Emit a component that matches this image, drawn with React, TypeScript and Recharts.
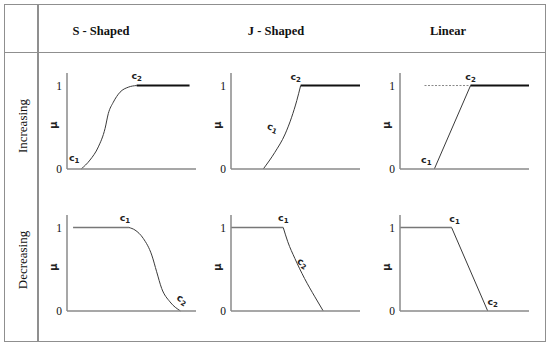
import React from "react";
import { LineChart, Line, XAxis, YAxis, ReferenceDot } from "recharts";

type Pt = { x: number; mu: number };

const COLUMNS = ["S - Shaped", "J - Shaped", "Linear"];
const ROWS = ["Increasing", "Decreasing"];
const MU_TICKS = [0, 1];

// S - shaped
const sIncCurve: Pt[] = [
  { x: 11, mu: 0 }, { x: 17.8, mu: 0.107 }, { x: 24.3, mu: 0.265 }, { x: 29.5, mu: 0.485 },
  { x: 32, mu: 0.663 }, { x: 35.9, mu: 0.8 }, { x: 41.1, mu: 0.92 }, { x: 47.5, mu: 0.98 }, { x: 54, mu: 1 },
];
const sIncTop: Pt[] = [{ x: 54, mu: 1 }, { x: 95, mu: 1 }];
const sDecTop: Pt[] = [{ x: 4.7, mu: 1 }, { x: 48, mu: 1 }];
const sDecCurve: Pt[] = [
  { x: 48, mu: 1 }, { x: 52.7, mu: 0.97 }, { x: 59.1, mu: 0.87 }, { x: 65.7, mu: 0.67 },
  { x: 69.5, mu: 0.47 }, { x: 73.4, mu: 0.27 }, { x: 79.8, mu: 0.11 }, { x: 88, mu: 0 },
];

// J - shaped
const jIncCurve: Pt[] = [
  { x: 25, mu: 0 }, { x: 34, mu: 0.2 }, { x: 42, mu: 0.42 }, { x: 47, mu: 0.62 }, { x: 51, mu: 0.82 }, { x: 54, mu: 1 },
];
const jIncTop: Pt[] = [{ x: 54, mu: 1 }, { x: 100, mu: 1 }];
const jDecTop: Pt[] = [{ x: 0, mu: 1 }, { x: 40.5, mu: 1 }];
const jDecCurve: Pt[] = [
  { x: 40.5, mu: 1 }, { x: 44, mu: 0.83 }, { x: 49.5, mu: 0.63 }, { x: 57, mu: 0.39 }, { x: 65, mu: 0.17 }, { x: 71.5, mu: 0 },
];

// Linear
const linIncGuide: Pt[] = [{ x: 19, mu: 1 }, { x: 54.7, mu: 1 }];
const linIncRamp: Pt[] = [{ x: 26.6, mu: 0 }, { x: 54.7, mu: 1 }];
const linIncTop: Pt[] = [{ x: 54.7, mu: 1 }, { x: 100, mu: 1 }];
const linDecTop: Pt[] = [{ x: 0, mu: 1 }, { x: 40, mu: 1 }];
const linDecRamp: Pt[] = [{ x: 40, mu: 1 }, { x: 68, mu: 0 }];

const AXIS = "#8a8a8a";
const GRID = "#8f8f8f";
const SERIF = "'Liberation Serif', 'Times New Roman', serif";

type Series = { data: Pt[]; kind: "curve" | "thick" | "thin" | "dash" };
type Mark = { x: number; mu: number; sub: string; dx: number; dy: number; rot?: number };

const STYLE: Record<Series["kind"], any> = {
  curve: { stroke: "#3a3a3a", strokeWidth: 1 },
  thick: { stroke: "#111", strokeWidth: 2 },
  thin: { stroke: "#777", strokeWidth: 1.3 },
  dash: { stroke: "#888", strokeWidth: 1, strokeDasharray: "2 1.5" },
};

function CLabel({ cx, cy, m }: any) {
  const x = cx + m.dx;
  const y = cy + m.dy;
  return (
    <text
      x={x - 1}
      y={y + 2}
      transform={m.rot ? `rotate(${m.rot} ${x} ${y})` : undefined}
      textAnchor="middle"
      fontFamily="'DejaVu Sans', sans-serif"
      fontWeight="bold"
      fontSize={9.5}
      fill="#222"
    >
      c<tspan fontSize={7} dy={2}>{m.sub}</tspan>
    </text>
  );
}

function Panel({ left, top, series, marks }: { left: number; top: number; series: Series[]; marks: Mark[] }) {
  const yw = 28;
  return (
    <div style={{ position: "absolute", left: left - yw, top: top - 6 }}>
      <LineChart width={129 + yw + 8} height={96 + 6 + 10} margin={{ top: 6, right: 8, bottom: 0, left: 0 }}>
        <XAxis
          type="number"
          dataKey="x"
          domain={[0, 100]}
          allowDataOverflow
          tick={false}
          tickLine={false}
          height={10}
          axisLine={{ stroke: AXIS, strokeWidth: 1.5 }}
        />
        <YAxis
          type="number"
          dataKey="mu"
          domain={[0, 1.15]}
          ticks={MU_TICKS}
          interval={0}
          width={yw}
          tickLine={false}
          tickSize={0}
          tickMargin={5}
          axisLine={{ stroke: AXIS, strokeWidth: 1.5 }}
          tick={{ fill: "#111", fontSize: 11.5, fontFamily: SERIF }}
          label={{
            value: "μ",
            angle: -90,
            position: "center",
            dy: 4,
            style: { fontFamily: "'DejaVu Sans', sans-serif", fontWeight: "bold", fontSize: 10, fill: "#222" },
          }}
        />
        {series.map((s, i) => (
          <Line
            key={i}
            data={s.data}
            dataKey="mu"
            type={s.kind === "curve" ? "monotone" : "linear"}
            dot={false}
            activeDot={false}
            isAnimationActive={false}
            {...STYLE[s.kind]}
          />
        ))}
        {marks.map((m, i) => (
          <ReferenceDot key={i} x={m.x} y={m.mu} r={0} shape={(p: any) => <CLabel {...p} m={m} />} />
        ))}
      </LineChart>
    </div>
  );
}

export default function App() {
  const line = { position: "absolute" as const, background: GRID };
  return (
    <div style={{ position: "absolute", left: 0, top: 0, width: 550, height: 348, background: "#fff" }}>
      {/* table frame */}
      <div style={{ position: "absolute", left: 4, top: 4, width: 540, height: 336, border: `1.5px solid ${GRID}` }} />
      <div style={{ ...line, left: 37, top: 4, width: 1.5, height: 338 }} />
      <div style={{ ...line, left: 4, top: 51.5, width: 542, height: 1.5 }} />

      {COLUMNS.map((c, i) => (
        <div
          key={c}
          style={{
            position: "absolute",
            left: [101, 276, 448][i] - 50,
            top: 24,
            width: 100,
            textAlign: "center",
            fontFamily: SERIF,
            fontWeight: "bold",
            fontSize: 12.5,
            color: "#111",
          }}
        >
          {c}
        </div>
      ))}
      {ROWS.map((r, i) => (
        <div
          key={r}
          style={{
            position: "absolute",
            left: 23 - 40,
            top: [126, 260][i] - 9,
            width: 80,
            height: 18,
            lineHeight: "18px",
            textAlign: "center",
            transform: "rotate(-90deg)",
            fontFamily: SERIF,
            fontSize: 13,
            color: "#111",
          }}
        >
          {r}
        </div>
      ))}

      <Panel
        left={67}
        top={73}
        series={[{ data: sIncCurve, kind: "curve" }, { data: sIncTop, kind: "thick" }]}
        marks={[
          { x: 11, mu: 0, sub: "1", dx: -6, dy: -10 },
          { x: 54, mu: 1, sub: "2", dx: 1, dy: -9 },
        ]}
      />
      <Panel
        left={231}
        top={73}
        series={[{ data: jIncCurve, kind: "curve" }, { data: jIncTop, kind: "thick" }]}
        marks={[
          { x: 42, mu: 0.42, sub: "1", dx: -12, dy: -5, rot: 20 },
          { x: 54, mu: 1, sub: "2", dx: -4, dy: -8 },
        ]}
      />
      <Panel
        left={400}
        top={73}
        series={[{ data: linIncGuide, kind: "dash" }, { data: linIncRamp, kind: "curve" }, { data: linIncTop, kind: "thick" }]}
        marks={[
          { x: 26.6, mu: 0, sub: "1", dx: -7, dy: -8 },
          { x: 54.7, mu: 1, sub: "2", dx: 1, dy: -8 },
        ]}
      />
      <Panel
        left={67}
        top={215}
        series={[{ data: sDecTop, kind: "thin" }, { data: sDecCurve, kind: "curve" }]}
        marks={[
          { x: 48, mu: 1, sub: "1", dx: -3, dy: -9 },
          { x: 88, mu: 0, sub: "2", dx: 2, dy: -10, rot: 30 },
        ]}
      />
      <Panel
        left={231}
        top={215}
        series={[{ data: jDecTop, kind: "thin" }, { data: jDecCurve, kind: "curve" }]}
        marks={[
          { x: 40.5, mu: 1, sub: "1", dx: 1, dy: -9 },
          { x: 49.5, mu: 0.63, sub: "2", dx: 8, dy: 6, rot: 30 },
        ]}
      />
      <Panel
        left={400}
        top={215}
        series={[{ data: linDecTop, kind: "thin" }, { data: linDecRamp, kind: "curve" }]}
        marks={[
          { x: 40, mu: 1, sub: "1", dx: 4, dy: -8 },
          { x: 68, mu: 0, sub: "2", dx: 6, dy: -8 },
        ]}
      />
    </div>
  );
}
